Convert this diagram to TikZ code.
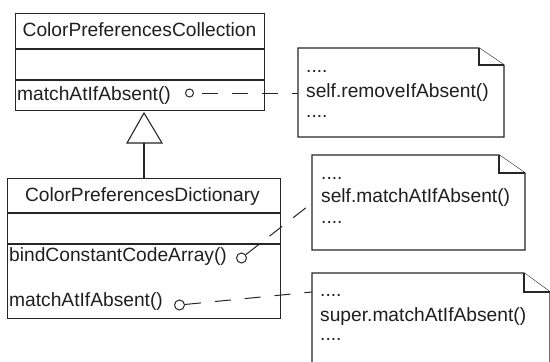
\documentclass[tikz,border=0pt]{standalone}
\usepackage{fontspec}
\setmainfont{Liberation Sans}
\begin{document}
\begin{tikzpicture}[x=1pt,y=-1pt,
  ink/.style={draw=black!85,line width=1.1pt},
  lbl/.style={anchor=base west,inner sep=0pt,text=black!88,font=\fontsize{19.2}{22}\selectfont},
  ttl/.style={anchor=base,inner sep=0pt,text=black!88,font=\fontsize{19.2}{22}\selectfont},
  pin/.style={draw=black!85,line width=1pt,fill=white,circle,inner sep=0pt,minimum size=#1},
  link/.style={draw=black!85,line width=1pt,dash pattern=on 16pt off 14pt},
  notebox/.style={draw=black!85,line width=1.1pt,fill=white,line join=miter}]
\useasboundingbox (0,0) rectangle (550,362);
\clip (0,0) rectangle (550,362);
% class 1
\node[ink,rectangle,minimum width=249pt,minimum height=97pt,anchor=north west,inner sep=0pt] (c1) at (15,13) {};
\draw[ink] (15,49) -- (264,49) (15,80) -- (264,80);
\node[ttl] (c1name) at (139.5,36.5) {ColorPreferencesCollection};
\node[lbl] (c1m) at (17,100) {matchAtIfAbsent()};
\node[pin=8pt] (p1) at (189.5,93) {};
% class 2
\node[ink,rectangle,minimum width=273pt,minimum height=140pt,anchor=north west,inner sep=0pt] (c2) at (7,178) {};
\draw[ink] (7,213) -- (280,213) (7,244) -- (280,244);
\node[ttl] (c2name) at (142.5,201.5) {ColorPreferencesDictionary};
\node[lbl] (c2m1) at (9,261.5) {bindConstantCodeArray()};
\node[lbl] (c2m2) at (9,306) {matchAtIfAbsent()};
\node[pin=10pt] (p2) at (241.5,258) {};
\node[pin=10pt] (p3) at (179.5,305) {};
% inheritance
\coordinate (apex) at (144,113);
\coordinate (tb) at (144,143);
\draw[ink,fill=white] (apex) -- (127,143) -- (162,143) -- cycle;
\draw[draw=black!85,line width=1.8pt] (tb) -- (c2.north -| tb);
% notes
\coordinate (n1) at (298,93);
\draw[notebox] (298,48) -- (479,48) -- (504,65) -- (504,137) -- (298,137) -- cycle;
\draw[notebox] (479,48) -- (479,65) -- (504,65);
\node[lbl] (n1a) at (306,72.5) {....};
\node[lbl] (n1b) at (306,97) {self.removeIfAbsent()};
\node[lbl] (n1c) at (306,117.5) {....};
\coordinate (n2) at (312,203);
\draw[notebox] (312,155) -- (499,155) -- (525,173) -- (525,250) -- (312,250) -- cycle;
\draw[notebox] (499,155) -- (499,173) -- (525,173);
\node[lbl] (n2a) at (321,179) {....};
\node[lbl] (n2b) at (321,202) {self.matchAtIfAbsent()};
\node[lbl] (n2c) at (321,223) {....};
\coordinate (n3) at (312,292);
\draw[notebox] (312,273) -- (524,273) -- (550,292) -- (550,380) -- (312,380) -- cycle;
\draw[notebox] (524,273) -- (524,292) -- (550,292);
\node[lbl] (n3a) at (320,296.5) {....};
\node[lbl] (n3b) at (320,321) {super.matchAtIfAbsent()};
\node[lbl] (n3c) at (320,340.5) {....};
% links
\draw[link,dash phase=-8pt] (p1) -- (n1);
\draw[link] (p2) -- (n2);
\draw[link] (p3) -- (n3);
\end{tikzpicture}
\end{document}
